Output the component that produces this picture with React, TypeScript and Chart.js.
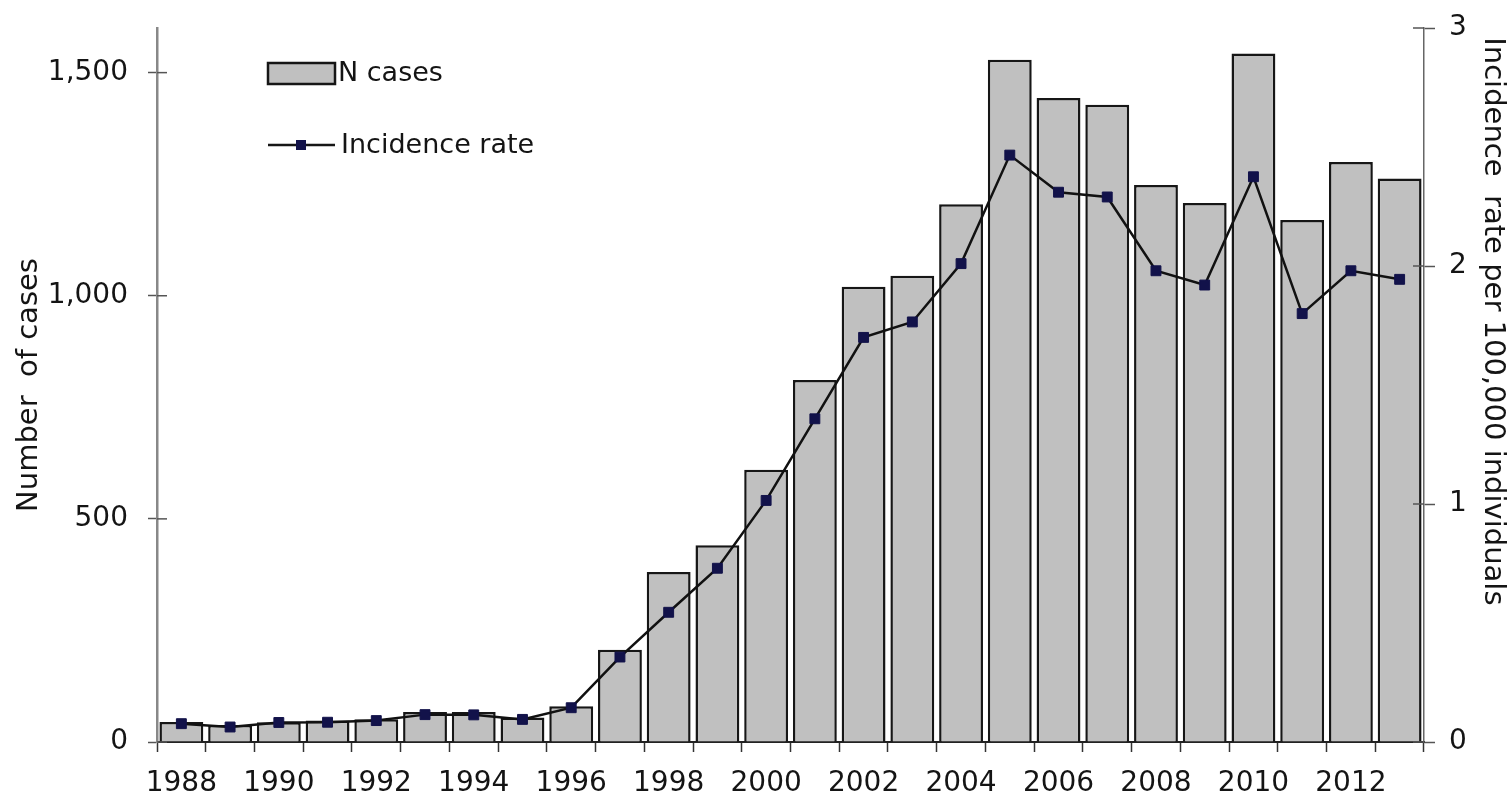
import React, { useEffect, useRef } from "react";
import { Chart, registerables } from "chart.js";

Chart.register(...registerables);

const years = [
  "1988", "1989", "1990", "1991", "1992", "1993", "1994", "1995", "1996",
  "1997", "1998", "1999", "2000", "2001", "2002", "2003", "2004", "2005",
  "2006", "2007", "2008", "2009", "2010", "2011", "2012", "2013",
];
const xTickLabels = ["1988", "1990", "1992", "1994", "1996", "1998", "2000", "2002", "2004", "2006", "2008", "2010", "2012"];
const nCases = [
  45, 38, 44, 48, 51, 67, 67, 55, 80,
  207, 381, 441, 610, 811, 1020, 1045, 1205, 1529,
  1443, 1428, 1248, 1208, 1543, 1170, 1300, 1263,
];
const incidenceRate = [
  0.077, 0.063, 0.082, 0.083, 0.09, 0.115, 0.114, 0.095, 0.144,
  0.357, 0.545, 0.73, 1.015, 1.358, 1.7, 1.765, 2.01, 2.466,
  2.31, 2.29, 1.98, 1.92, 2.375, 1.8, 1.98, 1.944,
];
const leftTicks = [0, 500, 1000, 1500];
const rightTicks = [0, 1, 2, 3];
const legendLabels = ["N cases", "Incidence rate"];
const leftTitle = "Number  of cases";
const rightTitle = " Incidence  rate per 100,000 individuals";

const FONT = "'DejaVu Sans', 'Liberation Sans', Arial, sans-serif";
const BAR_FILL = "#c0c0c0";
const BAR_BORDER = "#161616";
const POINT_COLOR = "#12124a";
const TEXT = "#141414";

export default function App() {
  const ref = useRef<HTMLCanvasElement>(null);

  useEffect(() => {
    document.body.style.margin = "0";
    const canvas = ref.current;
    if (!canvas) return;

    const legendPlugin = {
      id: "customLegend",
      afterDraw(chart: any) {
        const ctx = chart.ctx;
        const ca = chart.chartArea;
        const x0 = ca.left + 111;
        ctx.save();
        ctx.fillStyle = BAR_FILL;
        ctx.fillRect(x0, 63, 67, 21);
        ctx.strokeStyle = BAR_BORDER;
        ctx.lineWidth = 2.5;
        ctx.strokeRect(x0, 63, 67, 21);
        ctx.font = "27px " + FONT;
        ctx.fillStyle = TEXT;
        ctx.textBaseline = "middle";
        ctx.textAlign = "left";
        ctx.fillText(legendLabels[0], x0 + 70, 74);
        ctx.beginPath();
        ctx.moveTo(x0, 145);
        ctx.lineTo(x0 + 67, 145);
        ctx.stroke();
        ctx.fillStyle = POINT_COLOR;
        ctx.fillRect(x0 + 28, 140, 10, 10);
        ctx.fillStyle = TEXT;
        ctx.fillText(legendLabels[1], x0 + 73, 146);
        ctx.restore();
      },
    };

    const innerTicks = {
      id: "innerTicks",
      afterDraw(chart: any) {
        const ctx = chart.ctx;
        ctx.save();
        ctx.strokeStyle = "#555";
        ctx.lineWidth = 1.5;
        const yl = chart.scales.y;
        yl.ticks.forEach((_t: any, i: number) => {
          const y = yl.getPixelForTick(i);
          ctx.beginPath();
          ctx.moveTo(yl.right, y);
          ctx.lineTo(yl.right + 10, y);
          ctx.stroke();
        });
        const yr = chart.scales.y1;
        yr.ticks.forEach((_t: any, i: number) => {
          const y = yr.getPixelForTick(i);
          ctx.beginPath();
          ctx.moveTo(yr.left, y);
          ctx.lineTo(yr.left - 11, y);
          ctx.stroke();
        });
        ctx.restore();
      },
    };

    const chart = new Chart(canvas, {
      type: "bar",
      data: {
        labels: years,
        datasets: [
          {
            type: "line",
            label: legendLabels[1],
            data: incidenceRate,
            yAxisID: "y1",
            borderColor: "#111",
            borderWidth: 2.5,
            pointStyle: "rect",
            pointRadius: 7,
            pointBackgroundColor: POINT_COLOR,
            pointBorderColor: POINT_COLOR,
            pointBorderWidth: 1,
            tension: 0,
            order: 0,
          } as any,
          {
            type: "bar",
            label: legendLabels[0],
            data: nCases,
            yAxisID: "y",
            backgroundColor: BAR_FILL,
            borderColor: BAR_BORDER,
            borderWidth: 2.5,
            categoryPercentage: 1,
            barPercentage: 0.9,
            order: 1,
          },
        ],
      },
      options: {
        responsive: false,
        animation: false,
        devicePixelRatio: 1,
        layout: { padding: { top: 28, left: 0, right: 0, bottom: 0 } },
        font: { family: FONT, size: 28 },
        plugins: {
          legend: { display: false },
          tooltip: { enabled: false },
        },
        scales: {
          x: {
            type: "category",
            offset: true,
            grid: {
              offset: true,
              drawOnChartArea: false,
              tickLength: 10,
              tickColor: "#333",
              tickWidth: 1.5,
            },
            border: { color: "#222", width: 2 },
            ticks: {
              autoSkip: false,
              maxRotation: 0,
              minRotation: 0,
              padding: 15,
              color: TEXT,
              font: { family: FONT, size: 28 },
              callback: (_v: any, i: number) =>
                xTickLabels.includes(years[i]) ? years[i] : "",
            },
            afterFit: (s: any) => {
              s.height = 55;
            },
          },
          y: {
            type: "linear",
            position: "left",
            min: 0,
            max: 1600,
            grid: {
              drawOnChartArea: false,
              tickLength: 9,
              tickColor: "#555",
              tickWidth: 1.5,
            },
            border: { color: "#888", width: 2.5 },
            afterBuildTicks: (s: any) => {
              s.ticks = leftTicks.map((v) => ({ value: v }));
            },
            ticks: {
              padding: 20,
              color: TEXT,
              font: { family: FONT, size: 28, lineHeight: 0.5 },
              callback: (v: any) => Number(v).toLocaleString("en-US"),
            },
            title: {
              display: true,
              text: leftTitle,
              color: TEXT,
              font: { family: FONT, size: 29 },
              padding: { top: 12, bottom: 0 },
            },
            afterFit: (s: any) => {
              s.width = 157;
            },
          },
          y1: {
            type: "linear",
            position: "right",
            min: 0,
            max: 3,
            grid: {
              drawOnChartArea: false,
              tickLength: 11,
              tickColor: "#555",
              tickWidth: 1.5,
            },
            border: { color: "#666", width: 1.5 },
            afterBuildTicks: (s: any) => {
              s.ticks = rightTicks.map((v) => ({ value: v }));
            },
            ticks: {
              padding: 14,
              color: TEXT,
              font: { family: FONT, size: 28, lineHeight: 0.5 },
              callback: (v: any) => String(v),
            },
            title: {
              display: true,
              text: rightTitle,
              align: "end",
              color: TEXT,
              font: { family: FONT, size: 29 },
              padding: { top: 0, bottom: 0 },
            },
            afterFit: (s: any) => {
              s.width = 86;
            },
          },
        },
      },
      plugins: [legendPlugin, innerTicks],
    });

    return () => {
      chart.destroy();
    };
  }, []);

  return (
    <div style={{ width: 1510, height: 797, position: "relative", background: "#fff" }}>
      <canvas ref={ref} width={1510} height={797} style={{ display: "block", width: 1510, height: 797 }} />
    </div>
  );
}
